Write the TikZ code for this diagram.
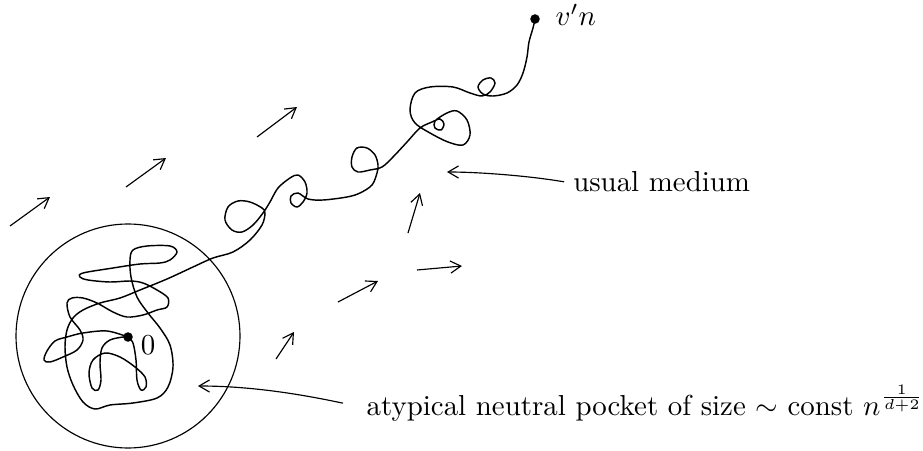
\documentclass[tikz,border=0pt]{standalone}
\usetikzlibrary{arrows.meta, positioning}

\begin{document}
\begin{tikzpicture}[x=0.346pt, y=-0.346pt, >={Straight Barb[length=3.6pt,width=4.2pt]},
        flow/.style={->, line width=0.4pt},
        walk/.style={line width=0.5pt},
        dot/.style={circle, fill=black, inner sep=0pt, minimum size=3.3pt},
        lbl/.style={anchor=base west, inner ysep=0pt}]
    \useasboundingbox (0,0) rectangle (923,451);

    \node[draw, circle, minimum size=77.5pt, inner sep=0pt, line width=0.4pt] (pocketdisc) at (128,336) {};
    \node[dot] (o) at (128,337) {};
    \node[dot] (vn) at (535,19) {};
    \node (zero) at (148,345.5) {$0$};
    \node[lbl, inner xsep=0pt] (vnlabel) at (555,26) {$v'n$};
    \node[lbl, inner xsep=3pt] (medium) at (564,191.7) {usual medium};
    \node[lbl, inner xsep=8pt] (pocket) at (343,415) {atypical neutral pocket of size $\sim$ const $n^{\frac{1}{d+2}}$};
    \coordinate (mediumtip) at (447,172);
    \coordinate (pockettip) at (198,386);

    % the walk
    \draw[walk] plot[smooth, tension=0.55] coordinates {(o.center) (133,343) (136,360) (137,380) (141,390) (146,387) (145,377) (135,367) (120,357) (105,353) (93,360) (89,373) (92,388) (98,390) (101,380) (100,363) (102,348) (110,340) (123,337) (o.center)};
    \draw[walk] plot[smooth, tension=0.55] coordinates {(o.center) (107,331) (83,333) (67,337) (55,341) (47,351) (44,360) (50,362) (63,357) (77,350) (83,340) (80,330) (70,317) (67,303) (72,298) (83,298) (97,303) (113,312) (127,317) (143,315) (157,310) (167,307) (168,298) (157,290) (143,283) (130,281) (110,282) (88,280) (80,277) (83,273) (113,268) (140,264) (160,263) (170,260) (177,252) (170,246) (147,246) (133,250) (130,260) (131,277) (137,297) (148,313) (160,328) (170,345) (173,367) (168,387) (157,398) (133,403) (110,405) (95,409) (83,402) (73,385) (67,367) (65,347) (67,330) (73,318) (83,310) (100,303) (120,298) (140,290) (167,279) (193,267) (213,258) (233,252) (250,240) (262,225) (265,213) (262,208) (250,202) (238,201) (228,207) (225,220) (232,230) (242,232) (253,225) (263,213) (270,202) (278,188) (290,178) (298,175) (305,182) (307,193) (303,202) (297,207) (291,203) (291,196) (298,193) (308,199) (323,200) (347,197) (360,193) (372,185) (377,173) (378,165) (375,155) (367,148) (357,148) (352,157) (352,167) (358,172) (370,170) (382,167) (393,157) (407,142) (420,128) (432,122) (440,119) (444,124) (441,130) (435,128) (435,121) (447,113) (457,111) (467,120) (470,135) (463,145) (448,142) (430,133) (415,123) (410,110) (415,93) (430,87) (453,87) (470,93) (482,96) (490,92) (495,83) (491,78) (483,80) (478,87) (483,94) (493,96) (507,93) (517,85) (523,73) (527,57) (529,42) (533,28) (vn.center)};

    % drift of the medium
    \foreach \xa/\ya/\xb/\yb in {10/226/50/197, 126/187/166/158, 257/137/297/107, 408/233/420/193,
            417/270/462/266, 338/302/378/281, 276/359/294/332}
        \draw[flow] (\xa,\ya) -- (\xb,\yb);

    \draw[flow] (medium.west) .. controls (530,176) and (480,172) .. (mediumtip);
    \draw[flow] (pocket.west) .. controls (300,394) and (250,386) .. (pockettip);
\end{tikzpicture}
\end{document}
